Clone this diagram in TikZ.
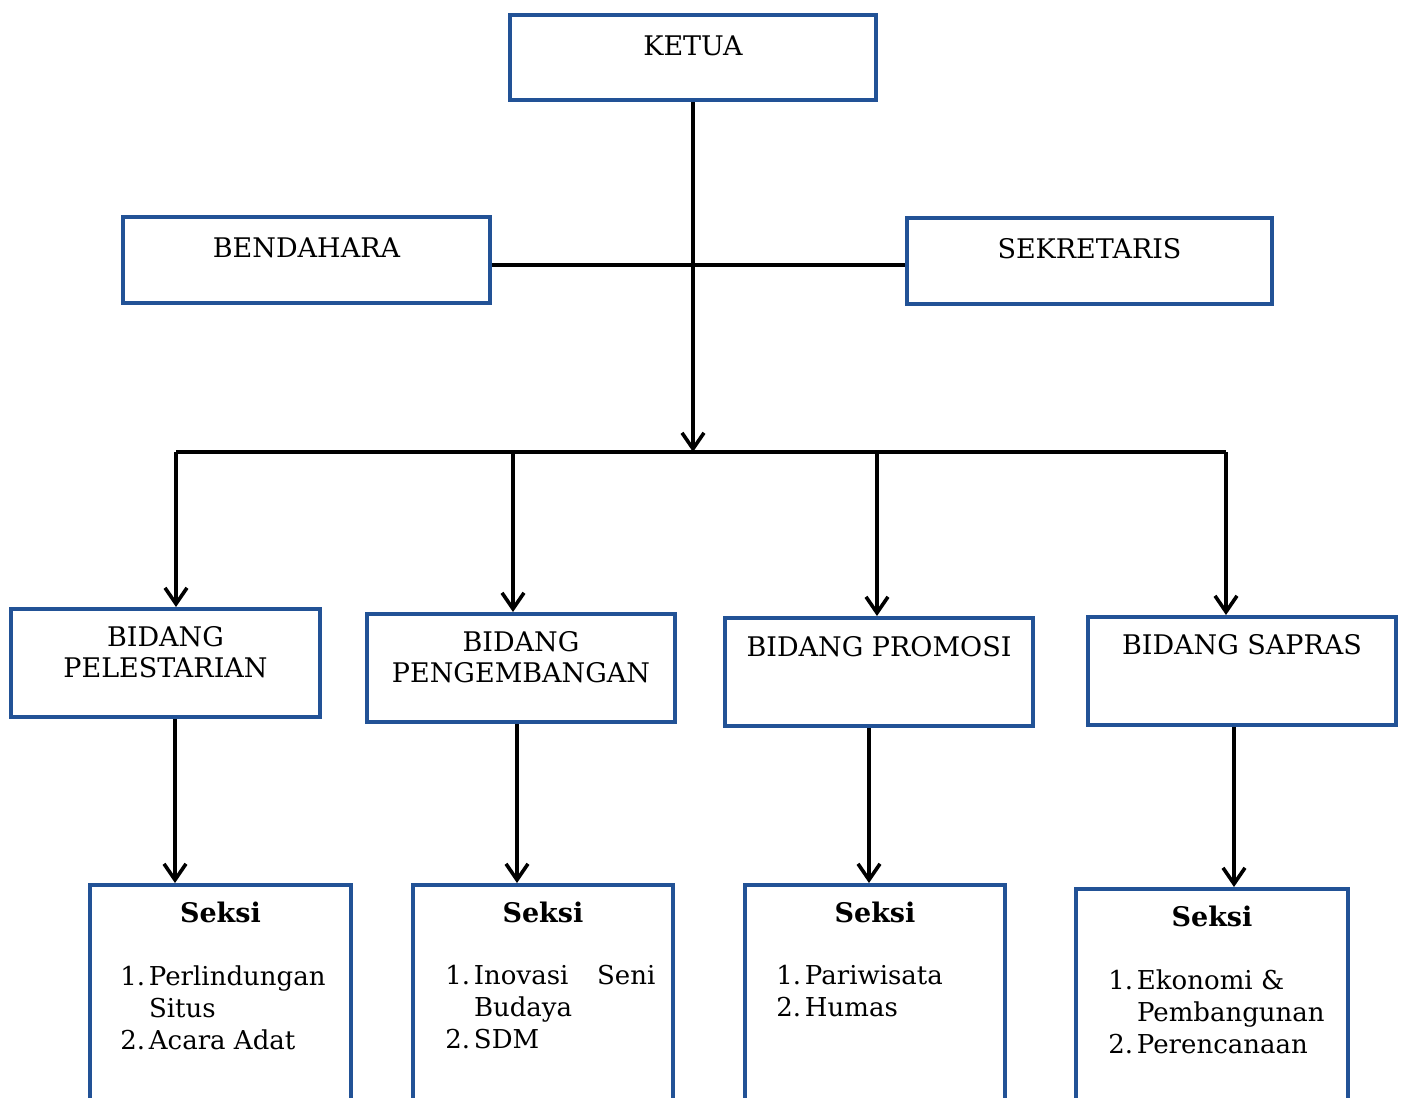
\documentclass[tikz,border=0pt]{standalone}
\usepackage{fontspec}
\setmainfont{DejaVu Serif}
\usetikzlibrary{arrows.meta,positioning}
\definecolor{boxblue}{RGB}{34,82,150}
\tikzset{
  box/.style={draw=boxblue,line width=2pt,inner sep=0pt},
  conn/.style={line width=1.8pt,black},
  arr/.style={conn,-{Straight Barb[length=8pt,width=11pt,line width=1.8pt]}},
  head/.style={font=\fontsize{13.5}{15.5}\selectfont,align=center,inner sep=0pt},
  seksi/.style={font=\bfseries\fontsize{13.5}{16}\selectfont,inner sep=0pt},
  items/.style={font=\fontsize{13}{16}\selectfont,inner sep=0pt,anchor=north west,align=left}
}
\newcommand{\itm}[2]{\makebox[1.1em][l]{#1}#2}
\begin{document}
\begin{tikzpicture}[x=0.5pt,y=-0.5pt]
\clip (0,0) rectangle (1404,1098);
\fill[white] (0,0) rectangle (1404,1098);
% boxes
\node[box,minimum width=183pt,minimum height=42.5pt] (ketua) at (693,57.5) {};
\node[box,minimum width=183.5pt,minimum height=43pt] (bend) at (306.5,260) {};
\node[box,minimum width=182.5pt,minimum height=43pt] (sekr) at (1089.5,261) {};
\node[box,minimum width=154.5pt,minimum height=54pt] (pel) at (165.5,663) {};
\node[box,minimum width=154pt,minimum height=54pt] (peng) at (521,668) {};
\node[box,minimum width=154pt,minimum height=54pt] (prom) at (879,672) {};
\node[box,minimum width=154pt,minimum height=54pt] (sap) at (1242,671) {};
\node[box,minimum width=130.5pt,minimum height=115pt] (s1) at (220.5,1000) {};
\node[box,minimum width=130pt,minimum height=115pt] (s2) at (543,1000) {};
\node[box,minimum width=130pt,minimum height=115pt] (s3) at (875,1000) {};
\node[box,minimum width=136pt,minimum height=113pt] (s4) at (1212,1002) {};
% texts
\node[head] (tketua) at ([yshift=-16.5pt]ketua.north) {KETUA};
\node[head] (tbend) at ([yshift=-16.5pt]bend.north) {BENDAHARA};
\node[head] (tsekr) at ([yshift=-16.5pt]sekr.north) {SEKRETARIS};
\node[head] (tpel) at ([yshift=-22.5pt]pel.north) {BIDANG\\PELESTARIAN};
\node[head] (tpeng) at ([yshift=-22.75pt]peng.north) {BIDANG\\PENGEMBANGAN};
\node[head] (tprom) at ([yshift=-15.5pt]prom.north) {BIDANG PROMOSI};
\node[head] (tsap) at ([yshift=-15pt]sap.north) {BIDANG SAPRAS};
\node[seksi] (ks1) at ([yshift=-14.5pt]s1.north) {Seksi};
\node[seksi] (ks2) at ([yshift=-14.5pt]s2.north) {Seksi};
\node[seksi] (ks3) at ([yshift=-14.5pt]s3.north) {Seksi};
\node[seksi] (ks4) at ([yshift=-14.5pt]s4.north) {Seksi};
\node[items] (is1) at ([xshift=16pt,yshift=-41pt]s1.north west) {\itm{1.}{Perlindungan}\\\itm{}{Situs}\\\itm{2.}{Acara Adat}};
\node[items] (is2) at ([xshift=17pt,yshift=-41pt]s2.north west) {\itm{1.}{Inovasi\hspace{1.1em}Seni}\\\itm{}{Budaya}\\\itm{2.}{SDM}};
\node[items] (is3) at ([xshift=16.5pt,yshift=-41pt]s3.north west) {\itm{1.}{Pariwisata}\\\itm{2.}{Humas}};
\node[items] (is4) at ([xshift=17pt,yshift=-41pt]s4.north west) {\itm{1.}{Ekonomi \&}\\\itm{}{Pembangunan}\\\itm{2.}{Perencanaan}};
% connectors
\coordinate (busc) at (693,452);
\coordinate (b1) at (176,452);
\coordinate (b2) at (513,452);
\coordinate (b3) at (877,452);
\coordinate (b4) at (1226,452);
\draw[conn] ([yshift=-2.5pt]bend.east) -- ([yshift=-2pt]sekr.west);
\draw[arr] (ketua.south) -- (busc);
\draw[conn] (b1) -- (b4);
\draw[arr] (b1) -- (b1 |- pel.north);
\draw[arr] (b2) -- (b2 |- peng.north);
\draw[arr] (b3) -- (b3 |- prom.north);
\draw[arr] (b4) -- (b4 |- sap.north);
\draw[arr] ([xshift=4.75pt]pel.south) coordinate (a1) -- (a1 |- s1.north);
\draw[arr] ([xshift=-2pt]peng.south) coordinate (a2) -- (a2 |- s2.north);
\draw[arr] ([xshift=-5pt]prom.south) coordinate (a3) -- (a3 |- s3.north);
\draw[arr] ([xshift=-4pt]sap.south) coordinate (a4) -- (a4 |- s4.north);
\end{tikzpicture}
\end{document}
